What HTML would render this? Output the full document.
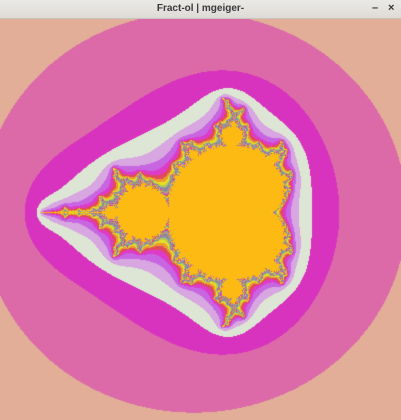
<!DOCTYPE html>
<html><head><meta charset="utf-8"><style>
html,body{margin:0;padding:0;width:401px;height:420px;overflow:hidden;background:#e2ae98}
#bar{position:absolute;left:0;top:0;width:401px;height:19px;background:linear-gradient(#ebe9e6,#dedbd7);border-bottom:1px solid #c8c4bf;box-sizing:border-box;font-family:"Liberation Sans",sans-serif}
#title{position:absolute;left:0;right:0;top:3px;text-align:center;font-size:10px;font-weight:bold;color:#3a3a3a}
.btn{position:absolute;top:2px;font-size:11px;font-weight:bold;color:#333}
#cv{position:absolute;left:0;top:19px}
</style></head><body>
<div id="bar">
<div id="title">Fract-ol | mgeiger-</div>
<div class="btn" style="left:372px">–</div>
<div class="btn" style="left:388px">×</div>
</div>
<canvas id="cv" width="401" height="401"></canvas>
<script>
const view = [-0.75, 0, 102]; // center re, center im, pixels per unit
const centerPx = [168, 193];
const maxIter = [60];
const radius = [4.1];
const palette = ["#e2ae98","#e2ae98","#e2ae98","#dc6aa8","#d833be","#dde6d4","#d8a6e0","#c866e2","#dd3cc8","#e04a5a","#ec9a30","#e8e020","#b8c850","#8898a8","#a07890","#70a0b0","#c8a060","#9090c0"];
const inside = "#fdba12";
function hex(h){return [parseInt(h.substr(1,2),16),parseInt(h.substr(3,2),16),parseInt(h.substr(5,2),16)];}
const pal = palette.map(hex), ins = hex(inside);
const cv=document.getElementById('cv'), ctx=cv.getContext('2d');
const img=ctx.createImageData(401,401);
const R2=radius[0]*radius[0];
for(let py=0;py<401;py++){for(let px=0;px<401;px++){
  const cr=view[0]+(px-centerPx[0])/view[2], ci=view[1]+(py-centerPx[1])/view[2];
  let x=0,y=0,n=0,out=false;
  while(n<maxIter[0]){const t=x*x-y*y+cr;y=2*x*y+ci;x=t;n++;if(x*x+y*y>R2){out=true;break;}}
  let c;
  if(!out)c=ins;else if(n<pal.length)c=pal[n];else c=pal[8+((n-8)%(pal.length-8))];
  const i=(py*401+px)*4;img.data[i]=c[0];img.data[i+1]=c[1];img.data[i+2]=c[2];img.data[i+3]=255;
}}
ctx.putImageData(img,0,0);
</script>
</body></html>
